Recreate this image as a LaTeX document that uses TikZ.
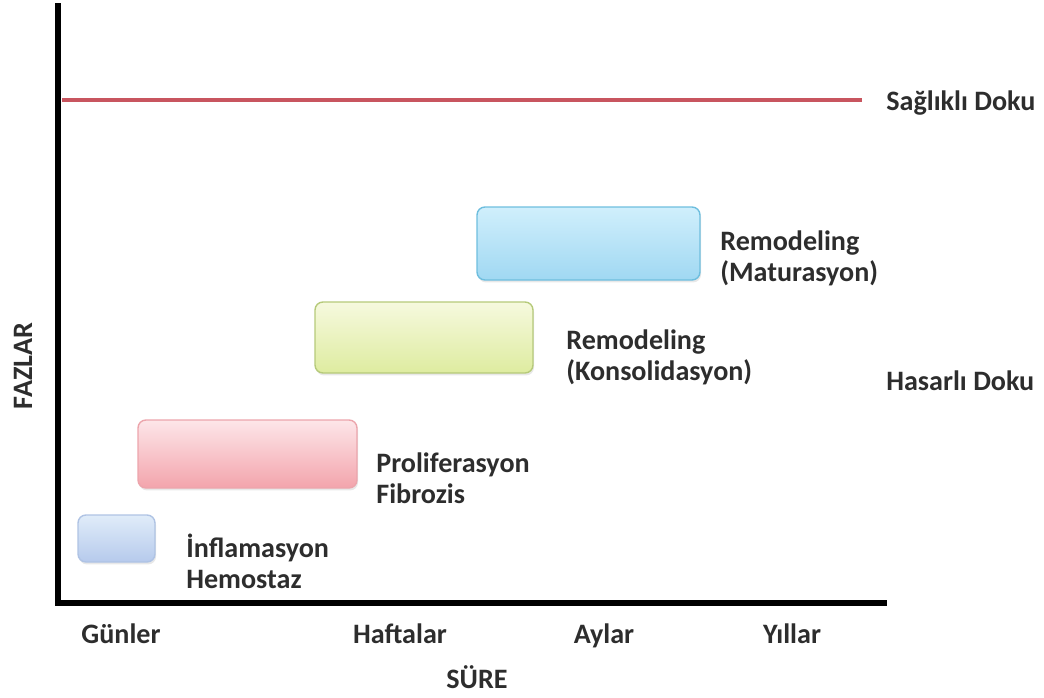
\documentclass[tikz,border=0pt]{standalone}
\usepackage{fontspec}
\setmainfont{Carlito}
\usetikzlibrary{positioning, shadows}
\definecolor{inkgray}{RGB}{45,45,45}
\definecolor{healthyred}{RGB}{200,85,95}
\definecolor{inflatop}{RGB}{224,236,249}
\definecolor{inflabot}{RGB}{182,202,236}
\definecolor{inflaline}{RGB}{175,195,228}
\definecolor{prolitop}{RGB}{253,230,233}
\definecolor{prolibot}{RGB}{243,164,172}
\definecolor{proliline}{RGB}{236,165,172}
\definecolor{konstop}{RGB}{246,249,222}
\definecolor{konsbot}{RGB}{222,236,160}
\definecolor{konsline}{RGB}{182,202,122}
\definecolor{matutop}{RGB}{208,239,252}
\definecolor{matubot}{RGB}{160,216,242}
\definecolor{matuline}{RGB}{110,190,222}

\begin{document}
\begin{tikzpicture}[x=0.02cm, y=-0.02cm,
    every node/.style={font=\fontsize{16}{17.5}\selectfont\bfseries, text=inkgray},
    axis/.style={line width=3.4pt, black},
    healthy/.style={line width=2.8pt, healthyred},
    phase/.style={rounded corners=4.5pt, inner sep=0pt, line width=0.8pt,
        drop shadow={opacity=0.18, shadow xshift=0.6pt, shadow yshift=-1.4pt}},
    phaselabel/.style={anchor=west, align=left, inner sep=0pt},
    timelabel/.style={anchor=base}]
    \useasboundingbox (0,0) rectangle (1044,697);
    % axes
    \coordinate (ytop) at (58,3);
    \coordinate (xend) at (887,603);
    \draw[axis] (ytop) |- (xend);
    % healthy tissue line
    \node[phaselabel] (saglikli) at (886,103) {Sağlıklı Doku};
    \coordinate (h0) at (62,100);
    \coordinate (h1) at (862,100);
    \draw[healthy] (h0) -- (h1);
    \node[phaselabel] (hasarli) at (886,381) {Hasarlı Doku};
    % phases
    \node[phase, draw=inflaline, top color=inflatop, bottom color=inflabot,
        minimum width=1.54cm, minimum height=0.94cm] (infla) at (116.5,538.5) {};
    \node[phase, draw=proliline, top color=prolitop, bottom color=prolibot,
        minimum width=4.38cm, minimum height=1.36cm] (proli) at (247.5,454) {};
    \node[phase, draw=konsline, top color=konstop, bottom color=konsbot,
        minimum width=4.36cm, minimum height=1.42cm] (kons) at (424,337.5) {};
    \node[phase, draw=matuline, top color=matutop, bottom color=matubot,
        minimum width=4.46cm, minimum height=1.46cm] (matu) at (588.5,243.5) {};
    \node[phaselabel] (inflatext) at (186,561) {İnflamasyon\\Hemostaz};
    \node[phaselabel] (prolitext) at (376,478) {Proliferasyon\\Fibrozis};
    \node[phaselabel] (konstext) at (566,357) {Remodeling\\(Konsolidasyon)};
    \node[phaselabel] (matutext) at (720,258) {Remodeling\\(Maturasyon)};
    % time axis
    \node[timelabel] (gunler) at (121,643) {Günler};
    \node[timelabel] (haftalar) at (400,643) {Haftalar};
    \node[timelabel] (aylar) at (604,643) {Aylar};
    \node[timelabel] (yillar) at (792,643) {Yıllar};
    \node[timelabel] (sure) at (477,688) {SÜRE};
    \node[rotate=90] (fazlar) at (23,366) {FAZLAR};
\end{tikzpicture}
\end{document}
